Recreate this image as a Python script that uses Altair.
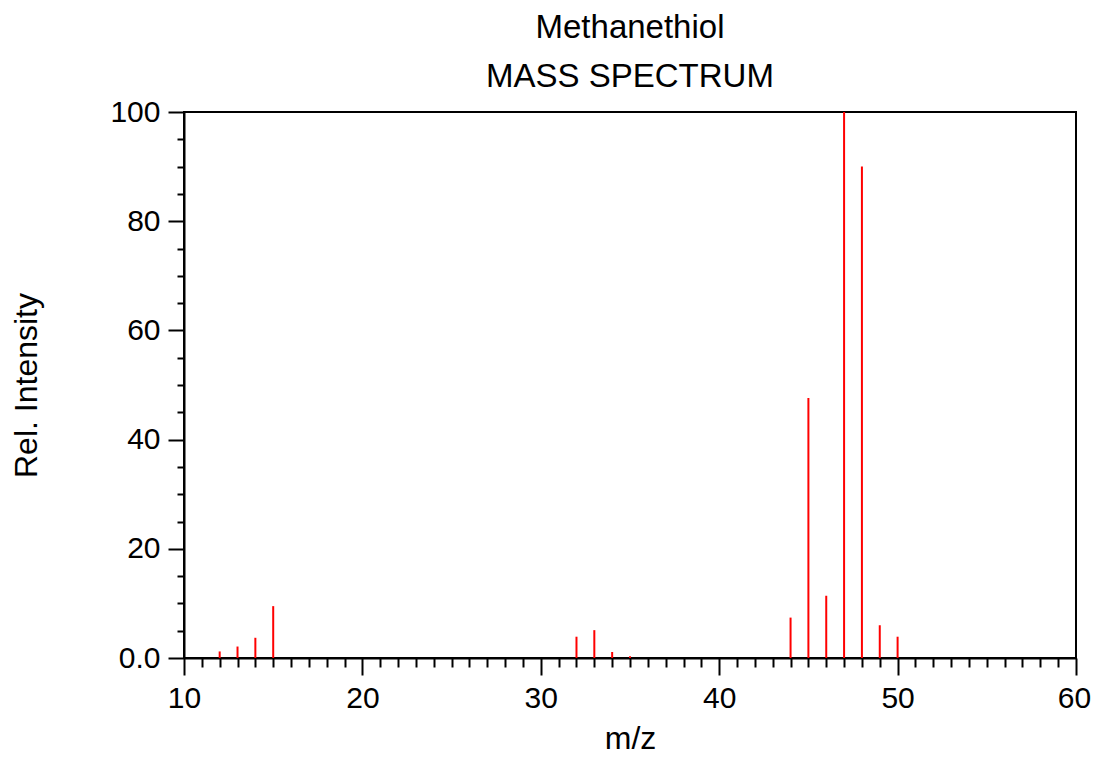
import altair as alt
import pandas as pd

mz = [12, 13, 14, 15, 32, 33, 34, 35, 44, 45, 46, 47, 48, 49, 50]
intensity = [1.2, 2.1, 3.7, 9.5, 3.9, 5.1, 1.1, 0.3, 7.4, 47.6, 11.4, 100.0, 90.0, 6.0, 3.9]

x_ticks = list(range(10, 61))
y_ticks = list(range(0, 101, 5))

df = pd.DataFrame({"mz": mz, "intensity": intensity})

FONT = "Liberation Sans"

x_axis = alt.Axis(
    values=x_ticks,
    title="m/z",
    labelExpr="datum.value % 10 === 0 ? datum.label : ''",
    labelFlush=False,
    labelOverlap=False,
    labelFont=FONT, labelFontSize=30, labelColor="black", labelPadding=8,
    labelOffset={"condition": {"test": "datum.value === 60", "value": -2}, "value": 0},
    titleFont=FONT, titleFontSize=32, titleFontWeight="normal", titleColor="black", titlePadding=10,
    tickColor="black", tickWidth=2,
    tickSize={"condition": {"test": "datum.value % 10 === 0", "value": 17}, "value": 9},
    domainColor="black", domainWidth=2,
    grid=False,
)
y_axis = alt.Axis(
    values=y_ticks,
    title="Rel. Intensity",
    labelExpr="datum.value % 20 === 0 ? (datum.value === 0 ? '0.0' : datum.label) : ''",
    labelFlush=False,
    labelOverlap=False,
    labelFont=FONT, labelFontSize=30, labelColor="black", labelPadding=8,
    titleFont=FONT, titleFontSize=32, titleFontWeight="normal", titleColor="black", titlePadding=66,
    tickColor="black", tickWidth=2,
    tickSize={"condition": {"test": "datum.value % 20 === 0", "value": 16}, "value": 7},
    domainColor="black", domainWidth=2,
    grid=False,
)

chart = alt.Chart(df).mark_rule(color="#ff0000", strokeWidth=2).encode(
    x=alt.X("mz:Q", scale=alt.Scale(domain=[10, 60], nice=False), axis=x_axis),
    y=alt.Y("intensity:Q", scale=alt.Scale(domain=[0, 100], nice=False), axis=y_axis),
    y2=alt.datum(0),
).properties(
    width=892,
    height=546,
    title=alt.TitleParams(
        ["Methanethiol", "MASS SPECTRUM"],
        font=FONT, fontSize=33, fontWeight="normal", color="black",
        lineHeight=49, anchor="middle", offset=3,
    ),
    autosize=alt.AutoSizeParams(type="none"),
    padding={"left": 176, "top": 104, "right": 15, "bottom": 92},
).configure_view(
    stroke="black", strokeWidth=2
)

chart.save("out.html", embed_options={"renderer": "svg", "actions": False})
